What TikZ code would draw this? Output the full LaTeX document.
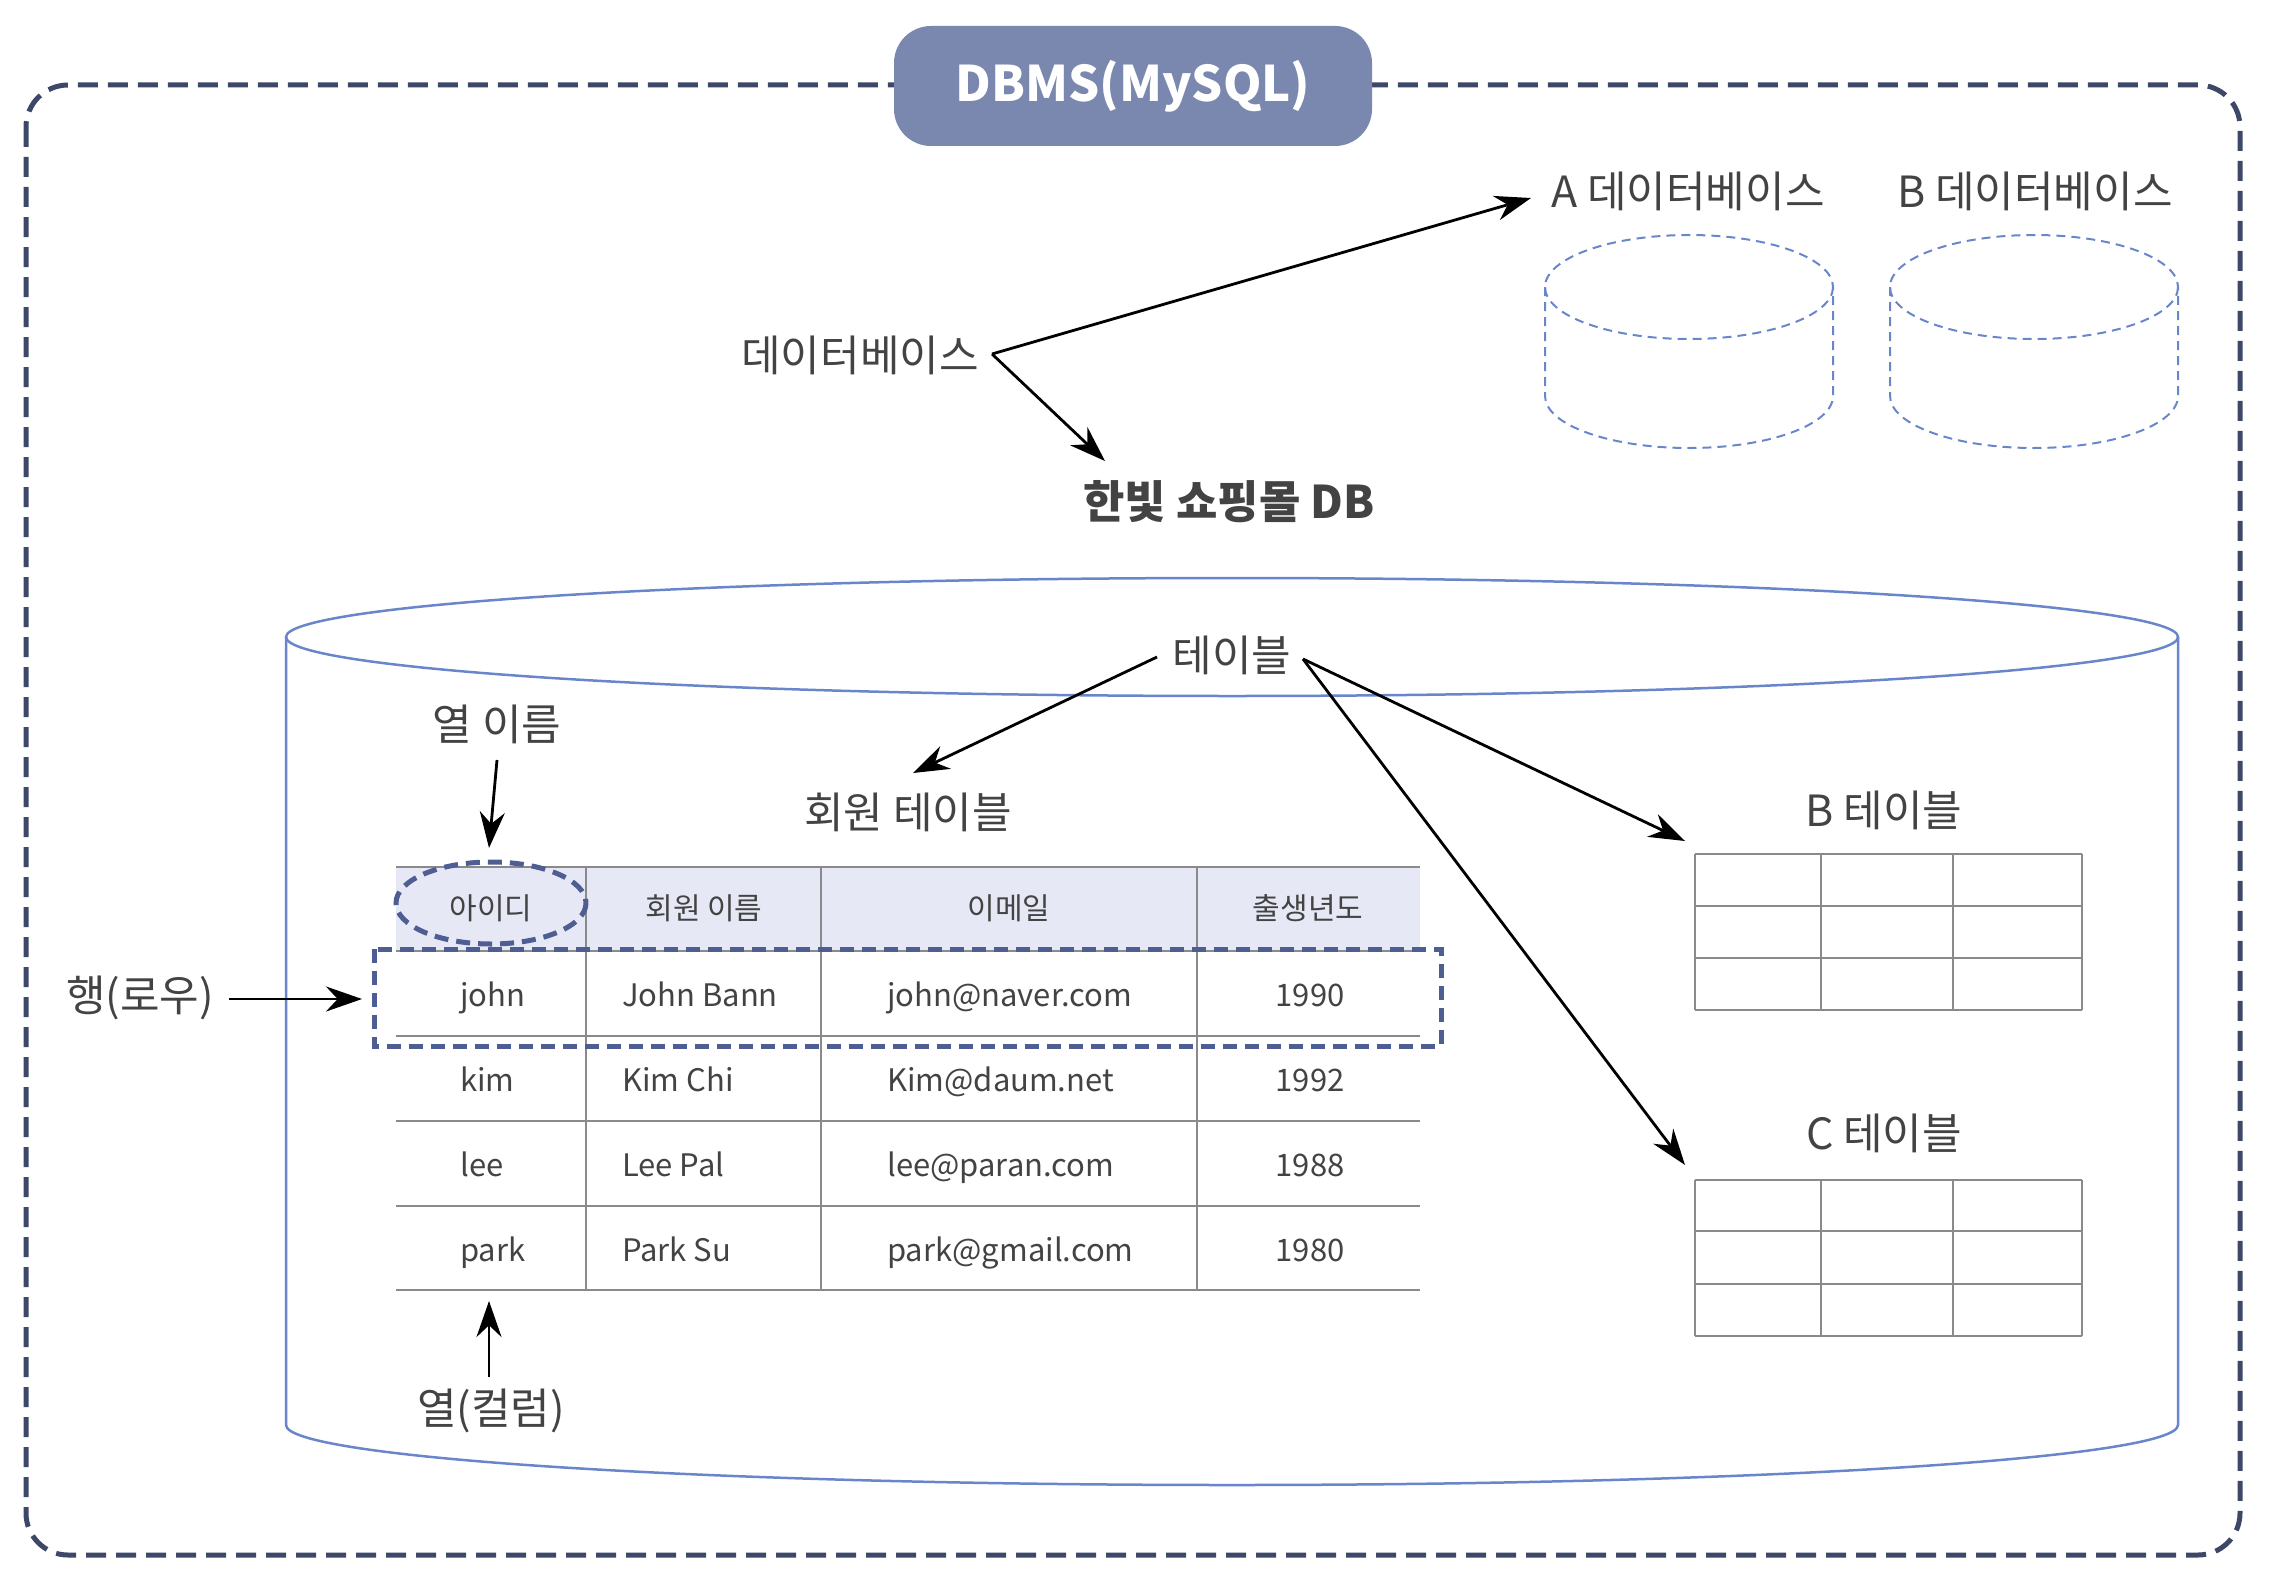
\documentclass[tikz,border=0pt]{standalone}
\usepackage{fontspec}
\setmainfont{Noto Sans CJK KR}
\usetikzlibrary{arrows.meta}
\definecolor{txt}{HTML}{434343}
\definecolor{navy}{HTML}{3D4868}
\definecolor{hl}{HTML}{4E5D92}
\definecolor{cyl}{HTML}{6A86CB}
\definecolor{hdr}{HTML}{E6E8F5}
\definecolor{gridc}{HTML}{8A8A8A}
\definecolor{badge}{HTML}{7A87AE}
\begin{document}
\begin{tikzpicture}[x=1pt,y=-1pt,
  lbl/.style={font=\fontsize{43}{48}\selectfont, text=txt, inner sep=0pt},
  blbl/.style={font=\fontsize{45}{50}\selectfont\bfseries, text=txt, inner sep=0pt},
  cell/.style={font=\fontsize{31}{36}\selectfont, text=txt, inner sep=0pt},
  hcell/.style={font=\fontsize{30}{34}\selectfont, text=txt, inner sep=0pt},
  arr/.style={line width=2.8pt, black, -{Stealth[length=36pt,width=25pt]}},
  gline/.style={gridc, line width=2pt},
  hldash/.style={hl, line width=5pt, dash pattern=on 14pt off 8pt},
  cyldash/.style={cyl, line width=2pt, dash pattern=on 9pt off 6pt},
  cylsolid/.style={cyl, line width=2.5pt}]
\useasboundingbox (0,0) rectangle (2296,1573);
% outer dashed frame
\draw[navy, line width=5pt, dash pattern=on 20pt off 10pt, rounded corners=42pt] (26,85) rectangle (2240,1555);
% badge
\node[fill=badge, rounded corners=37pt, minimum width=478pt, minimum height=120pt, inner sep=0pt,
      text=white, font=\fontsize{49}{53}\selectfont\bfseries] (dbms) at (1133,86) {DBMS(MySQL)};
% small dashed cylinders
\draw[cyldash] (1689,287) ellipse [x radius=144, y radius=52];
\draw[cyldash] (1545,287) -- (1545,396) arc[start angle=180, end angle=0, x radius=144, y radius=52] -- (1833,287);
\draw[cyldash] (2034,287) ellipse [x radius=144, y radius=52];
\draw[cyldash] (1890,287) -- (1890,396) arc[start angle=180, end angle=0, x radius=144, y radius=52] -- (2178,287);
\node[lbl] (dbA) at (1688,191) {A 데이터베이스};
\node[lbl] (dbB) at (2035,191) {B 데이터베이스};
% database label and arrows
\node[lbl] (dblabel) at (860,355) {데이터베이스};
\coordinate (dbsrc) at (992,354);
\coordinate (dbAend) at (1531,198);
\coordinate (shopend) at (1105,461);
\node[blbl] (shop) at (1229,502) {한빛 쇼핑몰 DB};
\draw[arr] (dbsrc) -- (dbAend);
\draw[arr] (dbsrc) -- (shopend);
% big cylinder
\draw[cylsolid] (1232,637) ellipse [x radius=946, y radius=59];
\draw[cylsolid] (286,637) -- (286,1425) arc[start angle=180, end angle=0, x radius=946, y radius=60] -- (2178,637);
% table label arrows
\node[lbl] (tbl) at (1232,655) {테이블};
\coordinate (tblL) at (1157,657);
\coordinate (tblR) at (1303,659);
\coordinate (memend) at (913,773);
\coordinate (bend) at (1685,841);
\coordinate (cend) at (1685,1165);
\draw[arr] (tblL) -- (memend);
\draw[arr] (tblR) -- (bend);
\draw[arr] (tblR) -- (cend);
\node[lbl] (memtbl) at (908,812) {회원 테이블};
\node[lbl] (btbl) at (1884,810) {B 테이블};
\node[lbl] (ctbl) at (1884,1133) {C 테이블};
% B and C tables
\foreach \yy in {854,906,958,1010} {\draw[gline] (1695,\yy) -- (2082,\yy);}
\foreach \xx in {1695,1821,1953,2082} {\draw[gline] (\xx,854) -- (\xx,1010);}
\foreach \yy in {1180,1231,1284,1336} {\draw[gline] (1695,\yy) -- (2082,\yy);}
\foreach \xx in {1695,1821,1953,2082} {\draw[gline] (\xx,1180) -- (\xx,1336);}
% member table
\fill[hdr] (396,867) rectangle (1420,951);
\foreach \yy in {867,951,1036,1121,1206,1290} {\draw[gline] (396,\yy) -- (1420,\yy);}
\foreach \xx in {586,821,1197} {\draw[gline] (\xx,867) -- (\xx,1290);}
\node[hcell] (h1) at (491,908) {아이디};
\node[hcell] (h2) at (704,908) {회원 이름};
\node[hcell] (h3) at (1009,908) {이메일};
\node[hcell] (h4) at (1308,908) {출생년도};
\node[cell, anchor=base west] (r1a) at (460,1006) {john};
\node[cell, anchor=base west] (r1b) at (622,1006) {John Bann};
\node[cell, anchor=base west] (r1c) at (887,1006) {john@naver.com};
\node[cell, anchor=base] (r1d) at (1310,1006) {1990};
\node[cell, anchor=base west] (r2a) at (460,1091) {kim};
\node[cell, anchor=base west] (r2b) at (622,1091) {Kim Chi};
\node[cell, anchor=base west] (r2c) at (887,1091) {Kim@daum.net};
\node[cell, anchor=base] (r2d) at (1310,1091) {1992};
\node[cell, anchor=base west] (r3a) at (460,1176) {lee};
\node[cell, anchor=base west] (r3b) at (622,1176) {Lee Pal};
\node[cell, anchor=base west] (r3c) at (887,1176) {lee@paran.com};
\node[cell, anchor=base] (r3d) at (1310,1176) {1988};
\node[cell, anchor=base west] (r4a) at (460,1261) {park};
\node[cell, anchor=base west] (r4b) at (622,1261) {Park Su};
\node[cell, anchor=base west] (r4c) at (887,1261) {park@gmail.com};
\node[cell, anchor=base] (r4d) at (1310,1261) {1980};
% highlights
\draw[hldash] (491,903) ellipse [x radius=95, y radius=41];
\draw[hldash] (374,949) rectangle (1441,1046);
% side labels
\node[lbl] (colname) at (497,724) {열 이름};
\coordinate (cnsrc) at (497,760);
\coordinate (cnend) at (489,848);
\draw[arr] (cnsrc) -- (cnend);
\node[lbl] (rowlbl) at (140,998) {행(로우)};
\coordinate (rowsrc) at (229,999);
\coordinate (rowend) at (362,999);
\draw[arr] (rowsrc) -- (rowend);
\node[lbl] (collbl) at (491,1411) {열(컬럼)};
\coordinate (colsrc) at (489,1377);
\coordinate (colend) at (489,1301);
\draw[arr] (colsrc) -- (colend);
\end{tikzpicture}
\end{document}
